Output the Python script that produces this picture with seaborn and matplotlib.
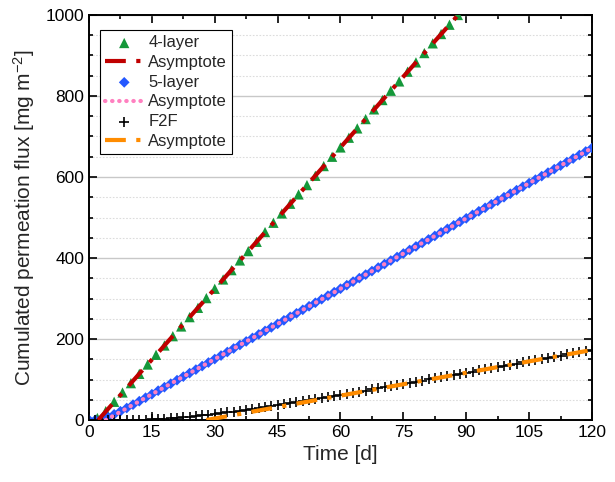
import pandas as pd
import matplotlib
matplotlib.use("Agg")
import matplotlib.pyplot as plt
import seaborn as sns
from matplotlib.ticker import MultipleLocator

# --------------------------------------------------
# data
# --------------------------------------------------

# 4-layer, one point every 2 days
t_4layer = [0, 2, 4, 6, 8, 10, 12, 14, 16, 18, 20, 22, 24, 26, 28, 30, 32, 34,
            36, 38, 40, 42, 44, 46, 48, 50, 52, 54, 56, 58, 60, 62, 64, 66, 68,
            70, 72, 74, 76, 78, 80, 82, 84, 86, 88]
q_4layer = [0, 5, 22, 45, 68, 91, 114, 137, 161, 184, 207, 231, 254, 277, 301,
            324, 347, 370, 394, 417, 440, 464, 487, 510, 534, 557, 580, 603,
            627, 650, 673, 697, 720, 743, 767, 790, 813, 836, 860, 883, 906,
            930, 953, 976, 1000]

# 5-layer and F2F, one point every 1.5 days
t_dense = [0, 1.5, 3, 4.5, 6, 7.5, 9, 10.5, 12, 13.5, 15, 16.5, 18, 19.5, 21,
           22.5, 24, 25.5, 27, 28.5, 30, 31.5, 33, 34.5, 36, 37.5, 39, 40.5,
           42, 43.5, 45, 46.5, 48, 49.5, 51, 52.5, 54, 55.5, 57, 58.5, 60,
           61.5, 63, 64.5, 66, 67.5, 69, 70.5, 72, 73.5, 75, 76.5, 78, 79.5,
           81, 82.5, 84, 85.5, 87, 88.5, 90, 91.5, 93, 94.5, 96, 97.5, 99,
           100.5, 102, 103.5, 105, 106.5, 108, 109.5, 111, 112.5, 114, 115.5,
           117, 118.5, 120]
q_5layer = [0, 0.1, 2.4, 7.3, 14.0, 21.6, 29.6, 38.0, 46.5, 55.1, 63.7, 72.4,
            81.1, 89.7, 98.4, 107.1, 115.8, 124.5, 133.2, 141.9, 150.5, 159.2,
            167.9, 176.6, 185.3, 194.0, 202.7, 211.3, 220.0, 228.7, 237.4,
            246.1, 254.8, 263.4, 272.1, 280.8, 289.5, 298.2, 306.9, 315.6,
            324.2, 332.9, 341.6, 350.3, 359.0, 367.7, 376.4, 385.0, 393.7,
            402.4, 411.1, 419.8, 428.5, 437.2, 445.8, 454.5, 463.2, 471.9,
            480.6, 489.3, 497.9, 506.6, 515.3, 524.0, 532.7, 541.4, 550.1,
            558.7, 567.4, 576.1, 584.8, 593.5, 602.2, 610.8, 619.5, 628.2,
            636.9, 645.6, 654.3, 663.0, 671.6]
q_f2f = [0, 0, 0, 0, 0, 0, 0.1, 0.3, 0.6, 1.0, 1.6, 2.3, 3.2, 4.2, 5.4, 6.6,
         8.0, 9.6, 11.2, 12.9, 14.7, 16.6, 18.6, 20.7, 22.8, 25.0, 27.2, 29.4,
         31.7, 34.1, 36.5, 38.9, 41.4, 43.9, 46.4, 49.0, 51.6, 54.2, 56.8,
         59.4, 62.0, 64.7, 67.4, 70.1, 72.8, 75.5, 78.2, 80.9, 83.6, 86.4,
         89.2, 91.9, 94.7, 97.4, 100.2, 103.0, 105.7, 108.5, 111.3, 114.1,
         116.9, 119.6, 122.4, 125.2, 128.0, 130.8, 133.6, 136.4, 139.2, 142.1,
         144.9, 147.7, 150.5, 153.3, 156.1, 159.0, 161.8, 164.6, 167.4, 170.2,
         173.0]

# asymptotes (start = time lag, end = value at 120 d)
t_asym_4 = [2.2, 120]
q_asym_4 = [0, 1372]
t_asym_5 = [4.0, 120]
q_asym_5 = [0, 671.6]
t_asym_f = [28.0, 120]
q_asym_f = [0, 173.0]

# --------------------------------------------------
# plot
# --------------------------------------------------

sns.set_theme(style="ticks")
plt.rcParams["font.family"] = ["Liberation Sans", "DejaVu Sans"]
plt.rcParams["mathtext.fontset"] = "custom"
plt.rcParams["mathtext.rm"] = "Liberation Sans"
plt.rcParams["mathtext.it"] = "Liberation Sans:italic"
plt.rcParams["mathtext.default"] = "regular"

fig = plt.figure(figsize=(6.15, 4.82), dpi=100)
ax = fig.add_axes([0.1447, 0.1286, 0.8179, 0.8403])

sns.scatterplot(x=t_4layer, y=q_4layer, marker="^", s=55, color="#15983a",
                edgecolor="none", label="4-layer", ax=ax, zorder=3)
sns.lineplot(x=t_asym_4, y=q_asym_4, color="#c00000", lw=3,
             linestyle=(0, (5, 2.5, 1, 2.5)), label="Asymptote", ax=ax, zorder=4)
sns.scatterplot(x=t_dense, y=q_5layer, marker="D", s=30, color="#2458ff",
                edgecolor="none", label="5-layer", ax=ax, zorder=3)
sns.lineplot(x=t_asym_5, y=q_asym_5, color="#ff80c0", lw=3,
             linestyle=(0, (0.1, 1.6)), dash_capstyle="round",
             label="Asymptote", ax=ax, zorder=4)
sns.scatterplot(x=t_dense, y=q_f2f, marker="+", s=60, color="black",
                linewidth=1.2, label="F2F", ax=ax, zorder=3)
sns.lineplot(x=t_asym_f, y=q_asym_f, color="#ff8c00", lw=3,
             linestyle=(0, (5, 2.5, 1, 2.5)), label="Asymptote", ax=ax, zorder=4)

ax.set_xlim(0, 120)
ax.set_ylim(0, 1000)
ax.xaxis.set_major_locator(MultipleLocator(15))
ax.xaxis.set_minor_locator(MultipleLocator(7.5))
ax.yaxis.set_major_locator(MultipleLocator(200))
ax.yaxis.set_minor_locator(MultipleLocator(50))

ax.grid(axis="y", which="major", color="#c8c8c8", lw=1, ls="-")
ax.grid(axis="y", which="minor", color="#dcdcdc", lw=0.8, ls=(0, (1.5, 1.5)))
ax.set_axisbelow(True)

ax.tick_params(which="both", direction="in", top=True, right=True,
               labelsize=12.5, colors="black", width=1.2)
ax.tick_params(which="major", length=6)
ax.tick_params(which="minor", length=3)
for s in ax.spines.values():
    s.set_linewidth(1.4)
    s.set_color("black")

ax.set_xlabel("Time [d]", fontsize=15, labelpad=4)
ax.set_ylabel("Cumulated permeation flux [mg m$^{-2}$]", fontsize=15, labelpad=6)

leg = ax.legend(loc="upper left", bbox_to_anchor=(0.022, 0.962), fontsize=12,
                frameon=True, fancybox=False, edgecolor="black",
                framealpha=1, handlelength=2.3, handletextpad=0.3,
                labelspacing=0.28, borderpad=0.3, borderaxespad=0)
leg.get_frame().set_linewidth(0.8)

fig.savefig("out.png", dpi=100)
